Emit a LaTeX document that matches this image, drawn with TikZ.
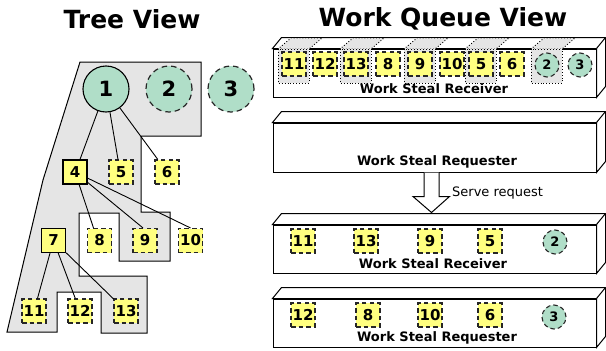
\documentclass[tikz,border=0pt]{standalone}
\usepackage{fontspec}
\setmainfont{DejaVu Sans}
\usetikzlibrary{calc}
\definecolor{mint}{RGB}{176,222,200}
\definecolor{lyel}{RGB}{255,255,128}
\definecolor{lgray}{RGB}{229,229,229}
\tikzset{
  rnode/.style={circle, draw, fill=mint, minimum size=46pt, inner sep=0pt,
    line width=1.1pt, font=\bfseries\fontsize{21}{21}\selectfont},
  rnoded/.style={rnode, draw=black!85, line width=1.2pt, dash pattern=on 5.5pt off 4pt},
  tsq/.style={rectangle, draw, fill=lyel, minimum size=24pt, inner sep=0pt,
    line width=1.1pt, font=\bfseries\fontsize{15}{15}\selectfont},
  tsqd/.style={tsq, draw=black!85, line width=1.1pt, dash pattern=on 4.5pt off 3.2pt},
  qcirc/.style={circle, draw=black!85, fill=mint, minimum size=24pt, inner sep=0pt,
    line width=1.1pt, dash pattern=on 4.5pt off 3pt, font=\bfseries\fontsize{13}{13}\selectfont},
  edge/.style={line width=0.9pt},
  title/.style={font=\bfseries\fontsize{25}{25}\selectfont, inner sep=0pt},
  blabel/.style={font=\bfseries\fontsize{13}{13}\selectfont, inner sep=0pt},
  qfront/.style={rectangle, draw, fill=white, minimum width=323pt, minimum height=48pt,
    inner sep=0pt, line width=1pt},
  qside/.style={line width=1pt, fill=white},
  stolen/.style={draw, fill=lgray, dotted, line width=0.9pt},
  hollowarrow/.style={draw, fill=white, line width=1pt},
}
\begin{document}
\begin{tikzpicture}[x=1pt,y=-1pt]
\useasboundingbox (0,0) rectangle (606,351);
% titles
\node[title, anchor=base] (t1) at (132,28) {Tree View};
\node[title, anchor=base] (t2) at (443,26) {Work Queue View};

% gray region of tree
\draw[fill=lgray, line width=1pt] (80,62) -- (201,62) -- (201,136) -- (141,136)
  -- (141,212) -- (170,212) -- (170,261) -- (119,261) -- (119,213) -- (79,213)
  -- (79,276) -- (147,276) -- (147,333) -- (101,333) -- (101,292) -- (57,292)
  -- (57,332) -- (7,332) -- (43,180) -- cycle;

% tree nodes
\node[rnode]  (n1) at (106,89) {1};
\node[rnoded] (n2) at (169,89) {2};
\node[rnoded] (n3) at (231,89) {3};
\node[tsq]  (n4) at (75,172) {4};
\node[tsqd] (n5) at (121,172) {5};
\node[tsqd] (n6) at (167,172) {6};
\node[tsq]  (n7) at (53.5,240.5) {7};
\node[tsqd] (n8) at (99.5,240.5) {8};
\node[tsqd] (n9) at (145,240.5) {9};
\node[tsqd] (n10) at (190.5,240.5) {10};
\node[tsqd] (n11) at (34,311) {11};
\node[tsqd] (n12) at (80,311) {12};
\node[tsqd] (n13) at (126,311) {13};

% tree edges
\draw[edge] (n1) -- ([xshift=5pt]n4.north);
\draw[edge] (n1) -- ([xshift=-3pt]n5.north);
\draw[edge] (n1) -- (n6);
\draw[edge] (n4) -- ([xshift=-6pt]n8.north);
\draw[edge] (n4) -- ([xshift=-2pt]n9.north);
\draw[edge] (n4) -- (n10.north);
\draw[edge] (n7) -- (n11);
\draw[edge] (n7) -- (n12);
\draw[edge] (n7) -- (n13);

% queue boxes
\foreach \nm/\cy/\h in {q1/73/48, q2/147.5/49, q3/249/48, q4/323/48}{
  \node[qfront, minimum height=\h pt] (\nm) at (434.5,\cy) {};
  \draw[qside] (\nm.north west) -- ++(9,-11) -- ($(\nm.north east)+(9,-11)$)
     -- ($(\nm.south east)+(9,-11)$) -- (\nm.south east) -- (\nm.north east) -- cycle;
  \draw[qside] (\nm.north east) -- ($(\nm.north east)+(9,-11)$);
}

% stolen (dotted gray) slots in first queue
\foreach \sx in {294,356,420,481,547}{
  \draw[stolen] (\sx-16,49) -- (\sx+15,49) -- (\sx+28,38) -- (\sx-3,38) -- cycle;
  \draw[stolen] (\sx-16,49) rectangle (\sx+15,83);
}

% items in first queue
\node[tsqd] (a11) at (294,64) {11};
\node[tsqd] (a12) at (325,64) {12};
\node[tsqd] (a13) at (356,64) {13};
\node[tsqd] (a8)  at (388,64) {8};
\node[tsqd] (a9)  at (420,64) {9};
\node[tsqd] (a10) at (452,64) {10};
\node[tsqd] (a5)  at (481,64) {5};
\node[tsqd] (a6)  at (512,64) {6};
\node[qcirc] (a2) at (547,65) {2};
\node[qcirc] (a3) at (580,65) {3};
\node[blabel, anchor=base] (l1) at (434,93) {Work Steal Receiver};

% second queue
\node[blabel, anchor=base] (l2) at (437,165) {Work Steal Requester};

% arrow
\coordinate (ar) at ($(q2.south)+(-3,0)$);
\draw[hollowarrow] ($(ar)+(-7.5,0)$) -- ++(0,24) -- ++(-11,0) -- ($(ar)+(0,40)$)
  -- ($(ar)+(18,24)$) -- ++(-10.5,0) -- ($(ar)+(7.5,0)$);
\node[font=\fontsize{13}{13}\selectfont, anchor=base west, inner sep=0pt] (sr) at (452,196) {Serve request};

% third queue
\node[tsqd] (b11) at (303,241) {11};
\node[tsqd] (b13) at (366,241) {13};
\node[tsqd] (b9)  at (430,241) {9};
\node[tsqd] (b5)  at (490,241) {5};
\node[qcirc] (b2) at (555,242) {2};
\node[blabel, anchor=base] (l3) at (433,268) {Work Steal Receiver};

% fourth queue
\node[tsqd] (c12) at (303,315) {12};
\node[tsqd] (c8)  at (368,315) {8};
\node[tsqd] (c10) at (430,315) {10};
\node[tsqd] (c6)  at (490,315) {6};
\node[qcirc] (c3) at (554,317) {3};
\node[blabel, anchor=base] (l4) at (437,341) {Work Steal Requester};
\end{tikzpicture}
\end{document}
